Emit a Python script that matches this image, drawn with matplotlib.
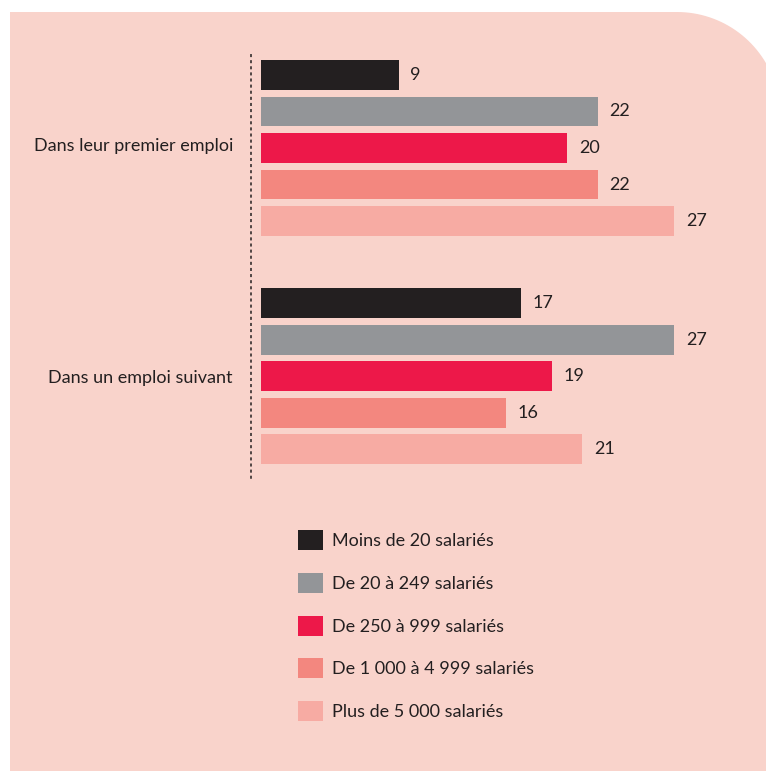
import numpy as np
import matplotlib.pyplot as plt
from matplotlib.patches import PathPatch, Patch
from matplotlib.path import Path

groups = ["Dans leur premier emploi", "Dans un emploi suivant"]
sizes = ["Moins de 20 salariés", "De 20 à 249 salariés", "De 250 à 999 salariés",
         "De 1 000 à 4 999 salariés", "Plus de 5 000 salariés"]
first_job = [9, 22, 20, 22, 27]
next_job = [17, 27, 19, 16, 21]
colors = ["#231f20", "#939598", "#ed1849", "#f3877f", "#f7aba3"]

BG = "#f9d3cb"
INK = "#231f20"
FS = 13
W, H = 766, 771
plt.rcParams['font.family'] = ['Lato', 'DejaVu Sans']

fig = plt.figure(figsize=(W / 100, H / 100), dpi=100, facecolor="white")

# pink panel, square corners except the top right one
def px(x, y):
    return (x / W, 1 - y / H)

r = 103
cx, cy = 677, 12 + r
verts = [px(10, H + 20), px(10, 12), px(cx, 12)]
for t in np.linspace(90, 0, 40):
    a = np.radians(t)
    verts.append(px(cx + r * np.cos(a), cy - r * np.sin(a)))
verts += [px(cx + r, H + 20), px(10, H + 20)]
codes = [Path.MOVETO] + [Path.LINETO] * (len(verts) - 2) + [Path.CLOSEPOLY]
fig.patches.append(PathPatch(Path(verts, codes), transform=fig.transFigure,
                             facecolor=BG, edgecolor="none", zorder=-5))

# bars axes: x 0..27 spans pixels 261..674, rows spaced 36.5 px
row_px = 36.5
top_px, bot_px = 52, 478
row0_px = 75
ax = fig.add_axes([261 / W, 1 - bot_px / H, (674 - 261) / W, (bot_px - top_px) / H])
ax.patch.set_visible(False)
ax.set_xlim(0, 27)
ax.set_ylim((bot_px - row0_px) / row_px, (top_px - row0_px) / row_px)

offsets = [0, 6.25]
for g, vals in enumerate([first_job, next_job]):
    ys = offsets[g] + np.arange(len(vals))
    ax.barh(ys, vals, height=0.82, color=colors, edgecolor="none")
    for y, v in zip(ys, vals):
        ax.annotate(str(v), (v, y), xytext=(8.5, 0), textcoords="offset points",
                    va="center", ha="left", fontsize=FS, color=INK)

ax.set_yticks([offsets[0] + 1.9, offsets[1] + 2])
ax.set_yticklabels(groups)
ax.tick_params(axis="y", length=0, pad=13, labelsize=FS, labelcolor=INK)
ax.set_xticks([])
for s in ["top", "right", "bottom"]:
    ax.spines[s].set_visible(False)
ax.spines["left"].set_position(("outward", 7.2))
ax.spines["left"].set_linestyle((0, (1, 3)))
ax.spines["left"].set_linewidth(1.1)
ax.spines["left"].set_color(INK)

handles = [Patch(facecolor=c, edgecolor="none") for c in colors]
fig.legend(handles, sizes, loc="upper left", bbox_to_anchor=px(298, 530),
           frameon=False, fontsize=FS, handlelength=1.38, handleheight=1.33,
           labelspacing=1.26, handletextpad=0.5, borderpad=0, borderaxespad=0,
           labelcolor=INK)

fig.savefig("out.png", dpi=100, facecolor="white")
